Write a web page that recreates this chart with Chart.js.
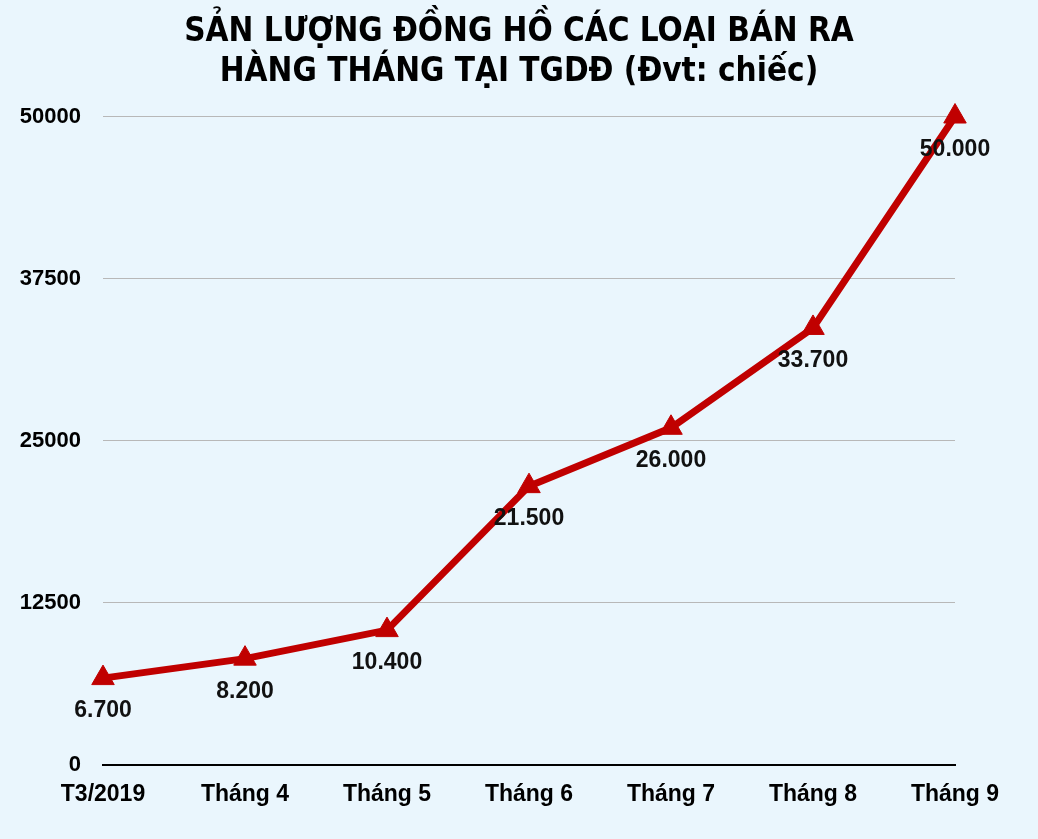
<!DOCTYPE html>
<html lang="vi">
<head>
<meta charset="utf-8">
<title>Sản lượng đồng hồ</title>
<script src="https://cdn.jsdelivr.net/npm/chart.js@4.4.1/dist/chart.umd.min.js"></script>
<style>
    html, body { margin: 0; padding: 0; background: #EAF6FD; }
    #wrap { width: 1038px; height: 839px; position: relative; }
</style>
</head>
<body>
<div id="wrap"><canvas id="salesChart"></canvas></div>
<script>
// Dữ liệu
const months = ['T3/2019', 'Tháng 4', 'Tháng 5', 'Tháng 6', 'Tháng 7', 'Tháng 8', 'Tháng 9'];
const units = [6700, 8200, 10400, 21500, 26000, 33700, 50000];
const yTicks = [0, 12500, 25000, 37500, 50000];
const titleLines = ['SẢN LƯỢNG ĐỒNG HỒ CÁC LOẠI BÁN RA', 'HÀNG THÁNG TẠI TGDĐ (Đvt: chiếc)'];

const RED = '#C00000';
const sansFamily = '"Liberation Sans", Arial, sans-serif';
const labelFont = 'bold 23px ' + sansFamily;

function dotThousands(v) {
    return String(v).replace(/\B(?=(\d{3})+(?!\d))/g, '.');
}

// nhãn giá trị bên dưới mỗi điểm
const valueLabels = {
    id: 'valueLabels',
    afterDatasetsDraw(chart) {
        const ctx = chart.ctx;
        const meta = chart.getDatasetMeta(0);
        ctx.save();
        ctx.font = labelFont;
        ctx.fillStyle = '#111';
        ctx.textAlign = 'center';
        ctx.textBaseline = 'middle';
        meta.data.forEach((pt, i) => {
            ctx.fillText(dotThousands(units[i]), pt.x, pt.y + 33);
        });
        ctx.restore();
    }
};

const ctx = document.getElementById('salesChart').getContext('2d');
const salesChart = new Chart(ctx, {
    type: 'line',
    data: {
        labels: months,
        datasets: [{
            data: units,
            borderColor: RED,
            backgroundColor: RED,
            borderWidth: 7,
            pointStyle: 'triangle',
            pointRadius: 13,
            pointHoverRadius: 13,
            pointBorderWidth: 1,
            tension: 0,
            clip: false
        }]
    },
    options: {
        responsive: true,
        maintainAspectRatio: false,
        animation: false,
        layout: {
            padding: 0
        },
        plugins: {
            legend: { display: false },
            tooltip: { enabled: false },
            title: {
                display: true,
                text: titleLines,
                color: '#000',
                font: {
                    family: '"Liberation Sans Narrow", "DejaVu Sans Condensed", sans-serif',
                    size: 33,
                    weight: 'bold',
                    lineHeight: 1.22
                },
                padding: { top: 12, bottom: 24 }
            }
        },
        scales: {
            x: {
                offset: false,
                grid: { display: false, drawTicks: false },
                border: { display: true, color: '#000', width: 2 },
                ticks: {
                    padding: 16,
                    color: '#000',
                    maxRotation: 0,
                    font: { family: sansFamily, size: 23, weight: 'bold' }
                },
                afterFit(scale) { scale.height = 74; }
            },
            y: {
                min: 0,
                max: 50000,
                afterBuildTicks(scale) {
                    scale.ticks = yTicks.map(v => ({ value: v }));
                },
                grid: { color: '#B8B8B8', lineWidth: 1, drawTicks: false },
                border: { display: false },
                ticks: {
                    padding: 22,
                    color: '#000',
                    font: { family: sansFamily, size: 22, weight: 'bold' },
                    callback: v => String(v)
                },
                afterFit(scale) { scale.width = 103; }
            },
            // trục phải ẩn, chỉ để chừa lề bên phải
            yRight: {
                position: 'right',
                display: true,
                grid: { display: false, drawTicks: false },
                border: { display: false },
                ticks: { display: false },
                afterFit(scale) { scale.width = 83; }
            }
        }
    },
    plugins: [valueLabels]
});
</script>
</body>
</html>
